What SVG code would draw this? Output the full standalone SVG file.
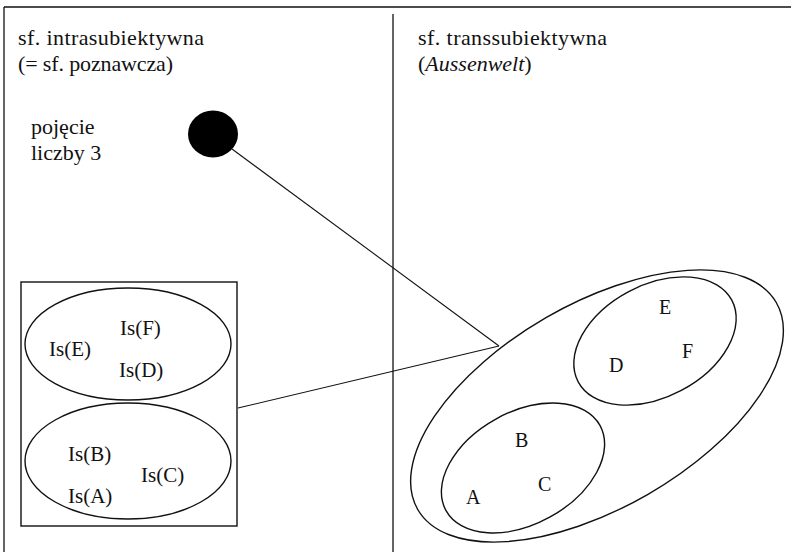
<svg xmlns="http://www.w3.org/2000/svg" width="791" height="552" viewBox="0 0 791 552">
  <style>
    .frame { fill: none; stroke: #111; stroke-width: 1.3; }
    .shape { fill: none; stroke: #111; stroke-width: 1.4; }
    .link { fill: none; stroke: #111; stroke-width: 1.1; }
    .t { font-family: 'Liberation Serif', 'Times New Roman', Times, serif; fill: #111; }
    .head { font-size: 22px; }
    .lbl { font-size: 21px; }
    .pt { font-size: 20px; }
  </style>
  <rect width="791" height="552" fill="#fff"/>

  <!-- outer frame and the divider between the two spheres -->
  <g id="frame">
    <line class="frame" x1="4" y1="7" x2="791" y2="7"/>
    <line class="frame" x1="4" y1="7" x2="4" y2="552"/>
    <line class="frame" x1="393" y1="14" x2="393" y2="552"/>
  </g>

  <!-- sphere headings -->
  <g id="intra-heading" class="t head" font-family="Liberation Serif, serif">
    <text x="18" y="45" textLength="186" lengthAdjust="spacing">sf. intrasubiektywna</text>
    <text x="18" y="71" textLength="155" lengthAdjust="spacing">(= sf. poznawcza)</text>
  </g>
  <g id="trans-heading" class="t head" font-family="Liberation Serif, serif">
    <text x="418" y="45" textLength="189" lengthAdjust="spacing">sf. transsubiektywna</text>
    <text x="418" y="71">(<tspan font-style="italic">Aussenwelt</tspan>)</text>
  </g>

  <!-- concept of the number 3 -->
  <g id="concept">
    <g class="t head" font-family="Liberation Serif, serif">
      <text x="31" y="134">pojęcie</text>
      <text x="31" y="160">liczby 3</text>
    </g>
    <ellipse cx="213" cy="134" rx="25" ry="23.5" fill="#000"/>
  </g>

  <!-- connectors -->
  <g id="connectors">
    <line class="link" x1="232" y1="149" x2="499" y2="346"/>
    <line class="link" x1="238" y1="408" x2="499" y2="346"/>
  </g>

  <!-- box of representations -->
  <g id="representations">
    <rect class="shape" x="21" y="282" width="216" height="244"/>
    <g id="set-def-rep" class="t lbl" font-family="Liberation Serif, serif">
      <ellipse class="shape" cx="128" cy="344" rx="103" ry="56"/>
      <text x="120" y="335">Is(F)</text>
      <text x="49" y="356">Is(E)</text>
      <text x="119" y="377">Is(D)</text>
    </g>
    <g id="set-abc-rep" class="t lbl" font-family="Liberation Serif, serif">
      <ellipse class="shape" cx="128" cy="461" rx="103" ry="58"/>
      <text x="68" y="461">Is(B)</text>
      <text x="141" y="482">Is(C)</text>
      <text x="68" y="503">Is(A)</text>
    </g>
  </g>

  <!-- external objects -->
  <g id="external">
    <ellipse class="shape" cx="597" cy="406" rx="207" ry="102" transform="rotate(-30 597 406)"/>
    <g id="set-def" class="t pt" font-family="Liberation Serif, serif">
      <ellipse class="shape" cx="655" cy="341" rx="87" ry="56" transform="rotate(-28 655 341)"/>
      <text x="659" y="314">E</text>
      <text x="682" y="358">F</text>
      <text x="609" y="372">D</text>
    </g>
    <g id="set-abc" class="t pt" font-family="Liberation Serif, serif">
      <ellipse class="shape" cx="523" cy="468" rx="88" ry="56" transform="rotate(-29 523 468)"/>
      <text x="515" y="447">B</text>
      <text x="538" y="491">C</text>
      <text x="466" y="504">A</text>
    </g>
  </g>
</svg>
